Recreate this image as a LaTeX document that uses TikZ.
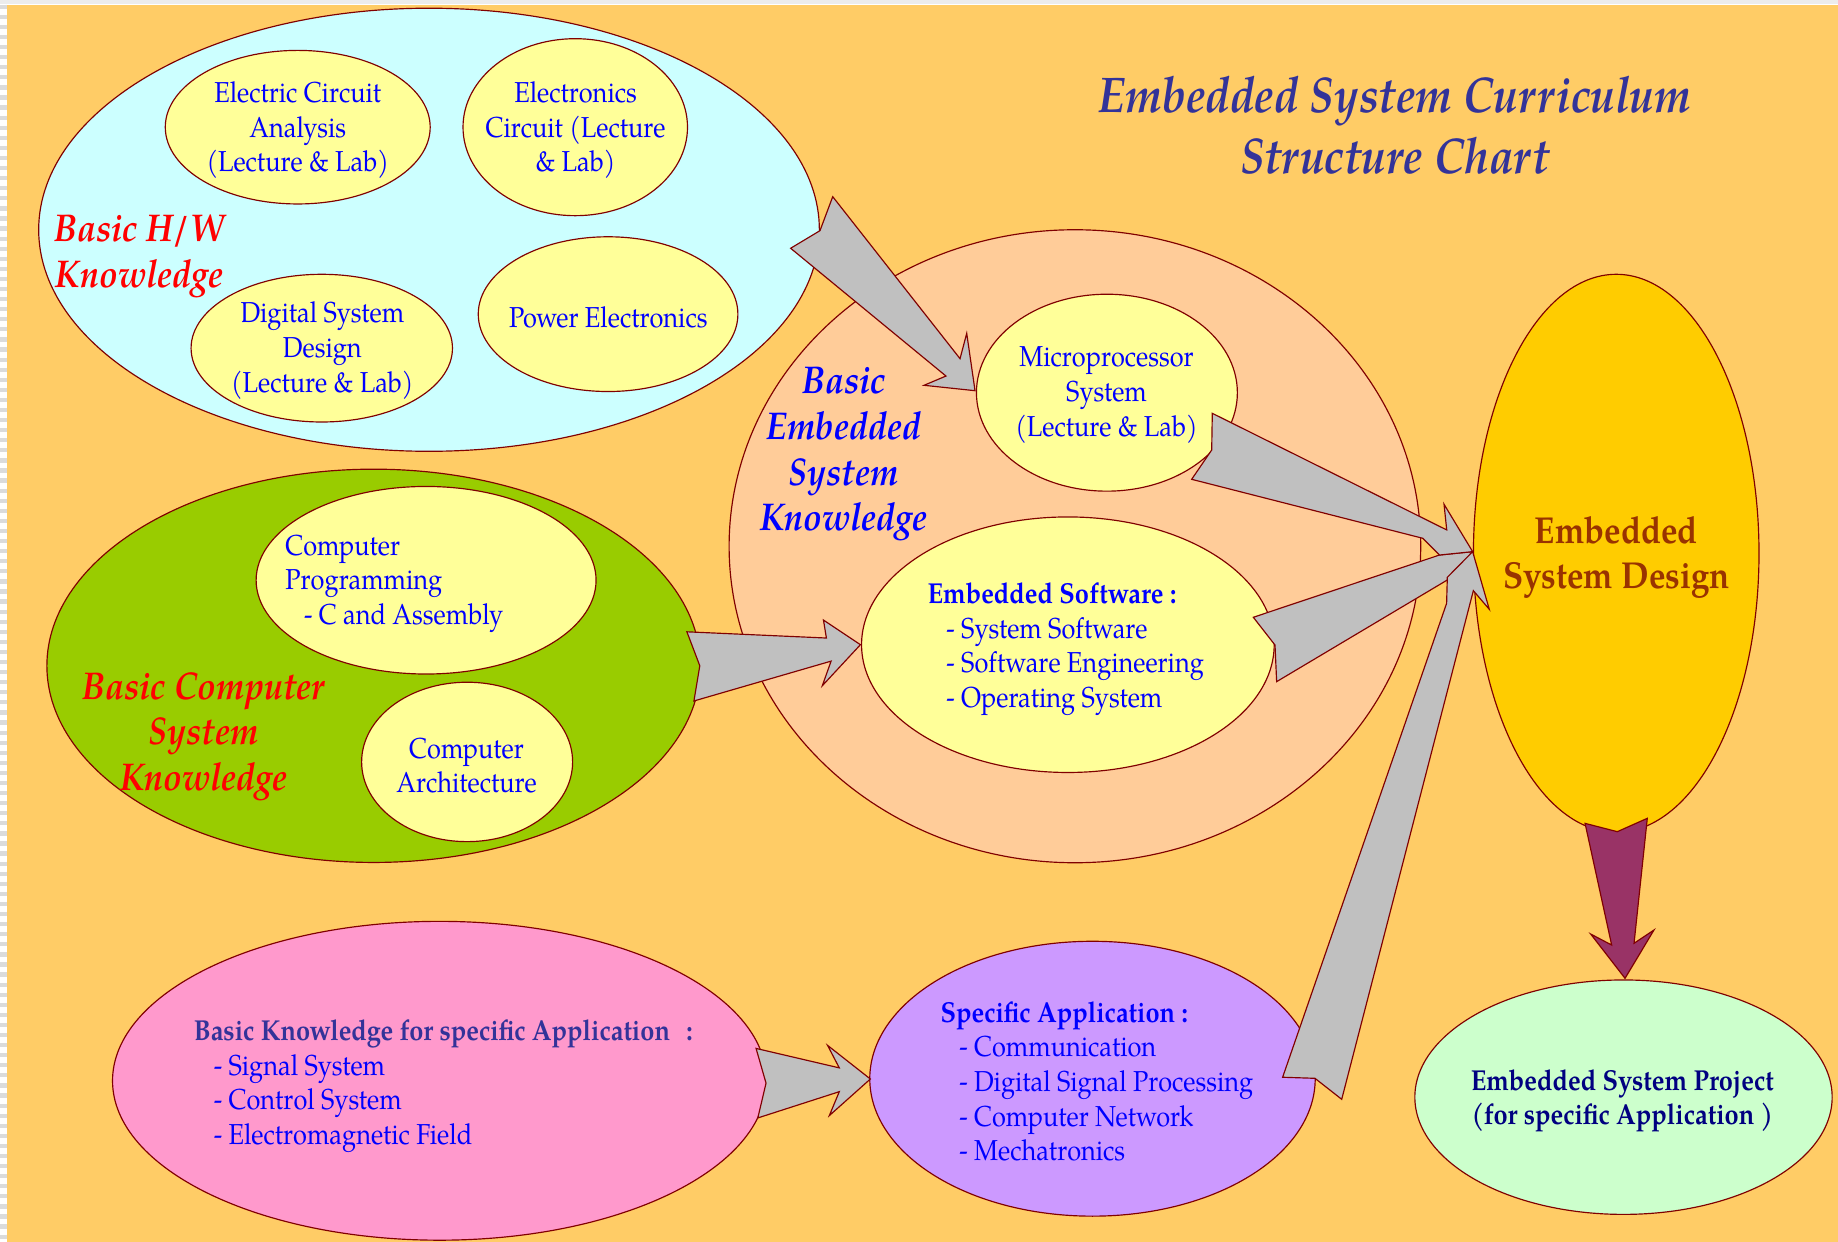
\documentclass[tikz,border=0pt]{standalone}
\usepackage{fontspec}
\setmainfont{TeX Gyre Pagella}[FakeStretch=0.88]
\usetikzlibrary{shapes.geometric}
\definecolor{bgor}{HTML}{FFCC66}
\definecolor{dred}{HTML}{800000}
\definecolor{cyanf}{HTML}{CCFFFF}
\definecolor{yelf}{HTML}{FFFF99}
\definecolor{greenf}{HTML}{99CC00}
\definecolor{peachf}{HTML}{FFCC99}
\definecolor{goldf}{HTML}{FFCC00}
\definecolor{pinkf}{HTML}{FF99CC}
\definecolor{purplef}{HTML}{CC99FF}
\definecolor{mintf}{HTML}{CCFFCC}
\definecolor{arrgray}{HTML}{C0C0C0}
\definecolor{plum}{HTML}{993366}
\definecolor{tblue}{HTML}{0000FF}
\definecolor{tnavy}{HTML}{333399}
\definecolor{tbrown}{HTML}{993300}
\definecolor{tdeep}{HTML}{000080}
\definecolor{tred}{HTML}{FF0000}
\begin{document}
\begin{tikzpicture}[x=0.5pt,y=-0.5pt,
  ell/.style={ellipse, draw=dred, line width=0.5pt, inner sep=0pt},
  body/.style={text=tblue, font=\fontsize{12.3}{14.75}\selectfont, inner sep=0pt},
  grouplbl/.style={font=\fontsize{16.5}{19.5}\selectfont\bfseries\itshape, align=center, inner sep=0pt},
  blk/.style={draw=dred, line width=0.5pt, fill=arrgray, line join=miter},
  blkdark/.style={draw=dred, line width=0.5pt, fill=plum, line join=miter}]
\useasboundingbox (0,0) rectangle (1568,1059.5);
\fill[white] (0,0) rectangle (1568,1059.5);
\fill[bgor] (6,4.5) rectangle (1568,1059.5);
\fill[gray!15] (0,0) rectangle (1568,3.5);
\draw[gray!28, line width=3pt, dash pattern=on 1.8pt off 2.5pt] (3,4) -- (3,1059.5);

% Title
\node[text=tnavy, font=\fontsize{21.4}{26}\selectfont\bfseries\itshape, align=center, inner sep=0pt] (title) at (1190,106.5)
  {Embedded System Curriculum\\Structure Chart};

% Basic H/W knowledge group
\node[ell, fill=cyanf, minimum width=333pt, minimum height=189pt] (hw) at (366,196) {};
\node[ell, fill=yelf, minimum width=113pt, minimum height=65.5pt] (eca) at (254,108.5) {};
\node[ell, fill=yelf, minimum width=95.75pt, minimum height=75.5pt] (ec) at (490.75,108.5) {};
\node[ell, fill=yelf, minimum width=111.5pt, minimum height=63pt] (dsd) at (274.5,297) {};
\node[ell, fill=yelf, minimum width=110.75pt, minimum height=66pt] (pe) at (518.75,268) {};
\node[body, align=center] (ecat) at (254,111) {Electric Circuit\\Analysis\\(Lecture \& Lab)};
\node[body, align=center] (ect) at (491,111) {Electronics\\Circuit (Lecture\\\& Lab)};
\node[body, align=center] (dsdt) at (275,299) {Digital System\\Design\\(Lecture \& Lab)};
\node[body, align=center] (pet) at (519,270.5) {Power Electronics};
\node[grouplbl, text=tred] (hwt) at (119,218.5) {Basic H/W\\Knowledge};

% Basic computer system knowledge group
\node[ell, fill=greenf, minimum width=278.75pt, minimum height=167.75pt] (cs) at (318.75,568) {};
\node[ell, fill=yelf, minimum width=145pt, minimum height=80pt] (cp) at (363.5,495) {};
\node[ell, fill=yelf, minimum width=90pt, minimum height=68pt] (ca) at (398.5,650) {};
\node[body, align=left, anchor=west] (cpt) at (243,498) {Computer\\Programming\\\hspace*{8pt}- C and Assembly};
\node[body, align=center] (cat) at (398,653) {Computer\\Architecture};
\node[grouplbl, text=tred] (cst) at (174,628.5) {Basic Computer\\System\\Knowledge};

% Basic embedded system knowledge group
\node[ell, fill=peachf, minimum width=295pt, minimum height=270pt] (bes) at (917,466) {};
\node[ell, fill=yelf, minimum width=111.3pt, minimum height=84pt] (mp) at (944.3,335) {};
\node[ell, fill=yelf, minimum width=176pt, minimum height=109pt] (es) at (911,550) {};
\node[body, align=center] (mpt) at (944,337) {Microprocessor\\System\\(Lecture \& Lab)};
\node[body, align=left, anchor=west] (est) at (791,554)
  {\textbf{Embedded Software :}\\\hspace*{8pt}- System Software\\\hspace*{8pt}- Software Engineering\\\hspace*{8pt}- Operating System};
\node[grouplbl, text=tblue] (best) at (720,387.5) {Basic\\Embedded\\System\\Knowledge};

% Embedded system design
\node[ell, fill=goldf, minimum width=121.8pt, minimum height=238pt] (esd) at (1378.8,472) {};
\node[text=tbrown, font=\fontsize{16}{19}\selectfont\bfseries, align=center, inner sep=0pt] (esdt) at (1379,475.5) {Embedded\\System Design};

% Application groups
\node[ell, fill=pinkf, minimum width=279pt, minimum height=136pt] (bk) at (375,922) {};
\node[body, align=left, anchor=west] (bkt) at (165,926.5)
  {\textcolor{tnavy}{\textbf{Basic Knowledge for specific Application\hspace{7pt}:}}\\\hspace*{8.5pt}- Signal System\\\hspace*{8.5pt}- Control System\\\hspace*{8.5pt}- Electromagnetic Field};
\node[ell, fill=purplef, minimum width=190pt, minimum height=117.25pt] (sa) at (932,920.25) {};
\node[body, align=left, anchor=west] (sat) at (802,922.5)
  {\textbf{Specific Application :}\\\hspace*{8pt}- Communication\\\hspace*{8pt}- Digital Signal Processing\\\hspace*{8pt}- Computer Network\\\hspace*{8pt}- Mechatronics};
\node[ell, fill=mintf, minimum width=178pt, minimum height=100pt] (prj) at (1385,936) {};
\node[body, text=tdeep, align=center, font=\fontsize{12.3}{14.75}\selectfont\bfseries] (prjt) at (1384,939)
  {Embedded System Project\\(for specific Application )};

% Block arrows
% H/W -> Microprocessor
\draw[blk] (710.4,167.8) -- (819,306) -- (824.7,284.4) -- (831.8,333.3) -- (788.3,328.7)
  -- (807,320.8) -- (674.5,211.8) -- (699.5,196.8) -- cycle;
% Computer system -> Embedded software
\draw[blk] (586,539) -- (705,544.3) -- (702.5,529) -- (734,550) -- (701.5,585)
  -- (709,564) -- (592,598) -- (597,568) -- cycle;
% Basic knowledge -> Specific application
\draw[blk] (645,894.4) -- (716,911) -- (706,891.8) -- (742.5,920.5) -- (707.5,951.7)
  -- (716,931.3) -- (646.5,953.7) -- (653.5,924) -- cycle;
% Embedded software -> Embedded system design
\draw[blk] (1069.2,526.6) -- (1228,473.5) -- (1256.3,470.6) -- (1236,494)
  -- (1089.1,581.5) -- (1087.7,550.3) -- cycle;
% Microprocessor -> Embedded system design
\draw[blk] (1034.2,352.6) -- (1234.2,452.1) -- (1231.9,430.2) -- (1256.3,470.6)
  -- (1228,473.5) -- (1213.7,459.2) -- (1016.6,408.9) -- (1033.7,383.9) -- cycle;
% Specific application -> Embedded system design
\draw[blk] (1094.2,919) -- (1121.8,919.9) -- (1144.6,937.8) -- (1256.9,503.9)
  -- (1270.5,519.8) -- (1256.3,470.6) -- (1234.7,492.5) -- (1234.1,514.7) -- cycle;
% Embedded system design -> Project
\draw[blkdark] (1352.2,702.4) -- (1379.7,709.5) -- (1405.3,698.1) -- (1394,804.7)
  -- (1411,793.4) -- (1386.3,834.6) -- (1357,796.8) -- (1374.9,806.2) -- cycle;
\end{tikzpicture}
\end{document}
